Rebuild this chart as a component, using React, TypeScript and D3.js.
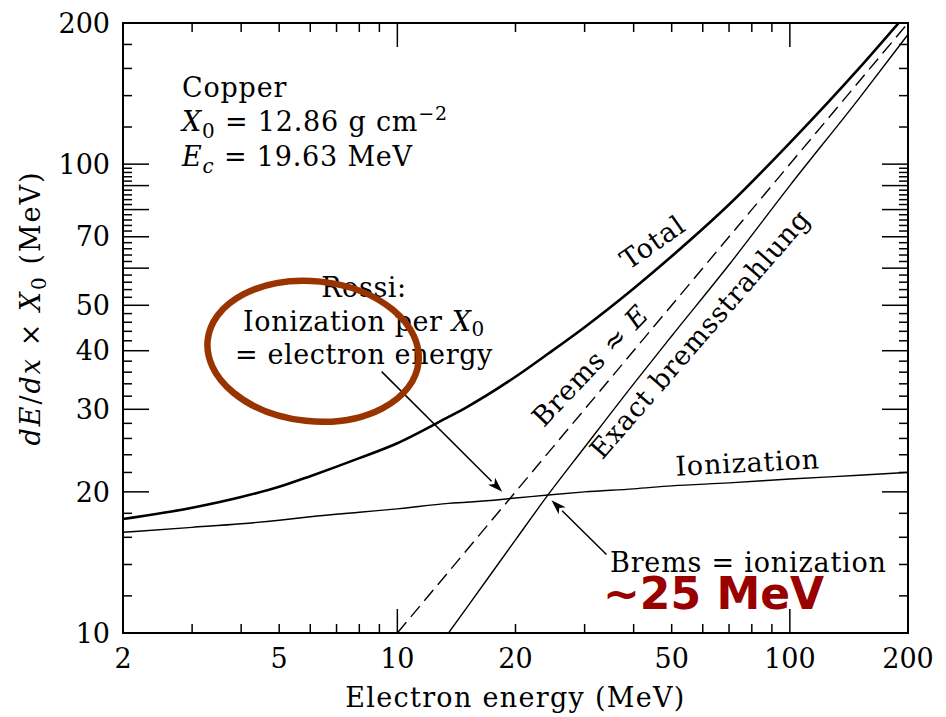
import React from "react";
import * as d3 from "d3";

// ---- data ----
const energyGrid = [2, 3, 4, 5, 6, 8, 10, 13.5, 15, 20, 24.2, 30, 40, 50, 70, 100, 150, 200];
const ionization = [16.4, 16.8, 17.1, 17.4, 17.7, 18.1, 18.4, 18.9, 19.0, 19.4, 19.7, 20.0, 20.3, 20.6, 20.9, 21.3, 21.7, 22.0];
const total = [17.5, 18.5, 19.5, 20.5, 21.6, 23.6, 25.4, 28.9, 30.3, 35.2, 39.4, 44.9, 54.3, 63.6, 82, 111, 160, 211];
const exactBremsEnergy = [13.5, 15, 20, 24.2, 30, 40, 50, 70, 100, 150, 200];
const exactBrems = [10, 11.3, 15.8, 19.7, 24.9, 34, 43, 61, 90, 138, 189];
const bremsApproxEnergy = [10, 200];
const bremsApprox = [10, 200];

const xTickLabels = [2, 5, 10, 20, 50, 100, 200];
const yTickLabels = [10, 20, 30, 40, 50, 70, 100, 200];
const xMinorTicks = [3, 4, 5, 6, 7, 8, 9, 20, 30, 40, 50, 60, 70, 80, 90];
const xMajorTicks = [10, 100];
const yMinorTicks = [12, 14, 16, 18, 22, 24, 26, 28, 32, 34, 36, 38, 42, 44, 46, 48, 52, 54, 56, 58, 62, 64, 66, 68, 72, 74, 76, 78, 82, 84, 86, 88, 92, 94, 96, 98, 120, 140, 160, 180];
const yMajorTicks = [20, 30, 40, 50, 60, 70, 80, 90, 100];

// annotation anchors (data coords)
const rossiArrow = { from: [9.12, 36.1], to: [18.5, 20.0] };
const equalArrow = { from: [34.1, 14.7], to: [24.7, 19.2] };
const ellipseCenter = [6.1, 39.9];

const W = 946, H = 717;
const M = { left: 123, right: 908, top: 23, bottom: 633 };
const FONT = "'DejaVu Serif', serif";

function Arrow({ x1, y1, x2, y2 }: { x1: number; y1: number; x2: number; y2: number }) {
  const ang = Math.atan2(y2 - y1, x2 - x1);
  const L = 15, hw = 5;
  const bx = x2 - L * Math.cos(ang), by = y2 - L * Math.sin(ang);
  const p1 = [bx + hw * Math.sin(ang), by - hw * Math.cos(ang)];
  const p2 = [bx - hw * Math.sin(ang), by + hw * Math.cos(ang)];
  const ix = x2 - (L - 4) * Math.cos(ang), iy = y2 - (L - 4) * Math.sin(ang);
  return (
    <g>
      <line x1={x1} y1={y1} x2={bx} y2={by} stroke="#000" strokeWidth={1.5} />
      <path d={`M${x2},${y2}L${p1[0]},${p1[1]}L${ix},${iy}L${p2[0]},${p2[1]}Z`} fill="#000" />
    </g>
  );
}

export default function App() {
  const x = d3.scaleLog().domain([2, 200]).range([M.left, M.right]);
  const y = d3.scaleLog().domain([10, 200]).range([M.bottom, M.top]);

  const line = d3
    .line<[number, number]>()
    .x((d) => x(d[0]))
    .y((d) => y(d[1]))
    .curve(d3.curveMonotoneX);

  const ionPts = energyGrid.map((e, i) => [e, ionization[i]] as [number, number]);
  const totPts = energyGrid.map((e, i) => [e, total[i]] as [number, number]);
  const exPts = exactBremsEnergy.map((e, i) => [e, exactBrems[i]] as [number, number]);
  const apPts = bremsApproxEnergy.map((e, i) => [e, bremsApprox[i]] as [number, number]);

  const longT = 24, shortT = 9;
  const fs = 27;

  return (
    <svg width={W} height={H} style={{ position: "absolute", left: 0, top: 0, background: "#fff" }} fontFamily={FONT}>
      <rect width={W} height={H} fill="#fff" />
      <defs>
        <clipPath id="plot">
          <rect x={M.left} y={M.top} width={M.right - M.left} height={M.bottom - M.top} />
        </clipPath>
      </defs>

      {/* curves */}
      <g clipPath="url(#plot)" fill="none" stroke="#000">
        <path d={line(totPts) || ""} strokeWidth={2.6} />
        <path d={line(ionPts) || ""} strokeWidth={1.4} />
        <path d={line(exPts) || ""} strokeWidth={1.4} />
        <path d={line(apPts) || ""} strokeWidth={1.4} strokeDasharray="14,7" />
      </g>

      {/* frame */}
      <rect x={M.left} y={M.top} width={M.right - M.left} height={M.bottom - M.top} fill="none" stroke="#000" strokeWidth={2} />

      {/* ticks */}
      <g stroke="#000" strokeWidth={1.5}>
        {xMinorTicks.map((t) => (
          <g key={"xm" + t}>
            <line x1={x(t)} x2={x(t)} y1={M.bottom} y2={M.bottom - shortT} />
            <line x1={x(t)} x2={x(t)} y1={M.top} y2={M.top + shortT} />
          </g>
        ))}
        {xMajorTicks.map((t) => (
          <g key={"xM" + t}>
            <line x1={x(t)} x2={x(t)} y1={M.bottom} y2={M.bottom - longT} />
            <line x1={x(t)} x2={x(t)} y1={M.top} y2={M.top + longT} />
          </g>
        ))}
        {yMinorTicks.map((t) => (
          <g key={"ym" + t}>
            <line x1={M.left} x2={M.left + shortT} y1={y(t)} y2={y(t)} />
            <line x1={M.right} x2={M.right - shortT} y1={y(t)} y2={y(t)} />
          </g>
        ))}
        {yMajorTicks.map((t) => (
          <g key={"yM" + t}>
            <line x1={M.left} x2={M.left + longT + 2} y1={y(t)} y2={y(t)} />
            <line x1={M.right} x2={M.right - longT - 2} y1={y(t)} y2={y(t)} />
          </g>
        ))}
      </g>

      {/* tick labels */}
      <g fontSize={fs} fill="#000">
        {xTickLabels.map((t) => (
          <text key={"xl" + t} x={x(t)} y={668} textAnchor="middle">
            {t}
          </text>
        ))}
        {yTickLabels.map((t) => (
          <text key={"yl" + t} x={110} y={y(t)} dy="0.36em" textAnchor="end">
            {t}
          </text>
        ))}
      </g>

      {/* axis titles */}
      <text x={(M.left + M.right) / 2} y={707} textAnchor="middle" fontSize={fs} letterSpacing={1.3}>
        Electron energy (MeV)
      </text>
      <text transform="translate(40,308) rotate(-90)" textAnchor="middle" fontSize={fs} letterSpacing={2}>
        <tspan fontStyle="italic">dE</tspan>/<tspan fontStyle="italic">dx</tspan> × <tspan fontStyle="italic">X</tspan>
        <tspan dy={6} fontSize={20}>0</tspan>
        <tspan dy={-6}> (MeV)</tspan>
      </text>

      {/* info block */}
      <g fontSize={fs} letterSpacing={0.8}>
        <text x={182} y={97}>Copper</text>
        <text x={182} y={131}>
          <tspan fontStyle="italic">X</tspan>
          <tspan dy={7} fontSize={20}>0</tspan>
          <tspan dy={-7}> = 12.86 g cm</tspan>
          <tspan dy={-11} fontSize={19}>−2</tspan>
        </text>
        <text x={182} y={166}>
          <tspan fontStyle="italic">E</tspan>
          <tspan dy={7} fontSize={20} fontStyle="italic">c</tspan>
          <tspan dy={-7}> = 19.63 MeV</tspan>
        </text>
      </g>

      {/* Rossi */}
      <g fontSize={fs} textAnchor="middle" letterSpacing={0.6}>
        <text x={364} y={297}>Rossi:</text>
        <text x={364} y={331}>
          Ionization per <tspan fontStyle="italic">X</tspan>
          <tspan dy={5} fontSize={20}>0</tspan>
        </text>
        <text x={364} y={364}>= electron energy</text>
      </g>
      <Arrow x1={x(rossiArrow.from[0])} y1={y(rossiArrow.from[1])} x2={x(rossiArrow.to[0])} y2={y(rossiArrow.to[1])} />

      {/* ellipse */}
      <ellipse
        cx={x(ellipseCenter[0])}
        cy={y(ellipseCenter[1])}
        rx={106}
        ry={70}
        transform={`rotate(6, ${x(ellipseCenter[0])}, ${y(ellipseCenter[1])})`}
        fill="none"
        stroke="#993300"
        strokeWidth={6.5}
      />

      {/* curve labels */}
      <g fontSize={fs} letterSpacing={0.8}>
        <text transform="translate(658,250) rotate(-35)" textAnchor="middle">Total</text>
        <text transform="translate(597,372) rotate(-46.5)" textAnchor="middle">
          Brems ≈ <tspan fontStyle="italic">E</tspan>
        </text>
        <text transform="translate(707,340) rotate(-49)" textAnchor="middle">Exact bremsstrahlung</text>
        <text transform="translate(748,472) rotate(-3)" textAnchor="middle">Ionization</text>
        <text x={610} y={572}>Brems = ionization</text>
      </g>
      <Arrow x1={x(equalArrow.from[0])} y1={y(equalArrow.from[1])} x2={x(equalArrow.to[0])} y2={y(equalArrow.to[1])} />

      {/* highlight */}
      <text x={603} y={609} fontSize={44} fontWeight="bold" fill="#990000" fontFamily="'DejaVu Sans', sans-serif">
        ~25 MeV
      </text>
    </svg>
  );
}
